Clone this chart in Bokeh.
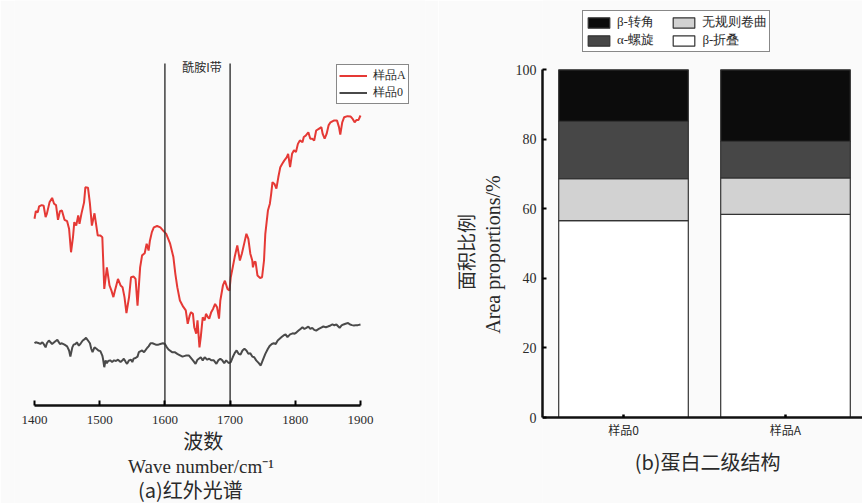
import math
from bokeh.plotting import figure
from bokeh.layouts import row
from bokeh.models import (Range1d, FixedTicker, Legend, LegendItem, Label, LinearAxis,
                          ColumnDataSource)
from bokeh.embed import file_html
from bokeh.resources import INLINE

# ---------------- data: (a) FTIR spectra ----------------
wn_a = [1400, 1402, 1405, 1407, 1411, 1414, 1417, 1419, 1423, 1427, 1430, 1433, 1436, 1439, 1442, 1446,
        1450, 1453, 1456, 1459, 1461, 1464, 1467, 1469, 1472, 1476, 1478, 1482, 1485, 1488, 1492, 1497,
        1501, 1504, 1507, 1511, 1515, 1518, 1521, 1524, 1528, 1532, 1535, 1538, 1541, 1545, 1548, 1552,
        1555, 1558, 1562, 1565, 1569, 1572, 1575, 1577, 1580, 1583, 1588, 1593, 1598, 1602, 1608, 1613,
        1616, 1619, 1623, 1628, 1632, 1635, 1638, 1640, 1643, 1645, 1648, 1650, 1653, 1655, 1658, 1661,
        1663, 1666, 1668, 1671, 1674, 1677, 1680, 1683, 1685, 1689, 1692, 1696, 1699, 1701, 1704, 1707,
        1711, 1715, 1718, 1722, 1725, 1728, 1731, 1734, 1735, 1737, 1739, 1742, 1746, 1749, 1752, 1754,
        1758, 1761, 1763, 1765, 1768, 1771, 1774, 1777, 1780, 1783, 1787, 1789, 1792, 1795, 1798, 1801,
        1804, 1807, 1811, 1813, 1816, 1820, 1823, 1826, 1829, 1832, 1836, 1840, 1842, 1845, 1848, 1851,
        1854, 1859, 1864, 1867, 1869, 1872, 1875, 1880, 1885, 1888, 1891, 1894, 1897, 1900]
trans_a = [54.6, 56.8, 56.5, 58.2, 58.6, 58.4, 55.1, 56.1, 59.4, 60.7, 59.0, 58.6, 54.3, 56.8, 57.0, 54.3,
           53.9, 51.7, 44.8, 49.2, 53.6, 52.6, 55.6, 53.1, 56.1, 59.4, 63.8, 63.7, 59.0, 52.6, 56.2, 49.7,
           49.7, 49.2, 34.1, 40.4, 35.1, 33.6, 31.7, 34.1, 37.0, 35.1, 34.6, 31.7, 27.0, 31.7, 37.5, 37.7,
           37.0, 29.2, 40.4, 43.9, 44.5, 47.3, 45.3, 48.2, 50.7, 52.1, 52.5, 52.1, 51.0, 50.2, 47.3, 43.4,
           38.5, 34.6, 30.7, 28.9, 27.8, 23.9, 26.3, 27.3, 26.8, 22.9, 21.0, 24.9, 17.0, 20.0, 25.8, 24.9,
           26.8, 25.8, 25.4, 27.3, 28.3, 29.7, 28.7, 25.4, 30.7, 35.1, 36.5, 34.1, 33.6, 37.5, 40.4, 43.4,
           46.8, 42.4, 44.4, 47.7, 50.2, 48.7, 44.4, 42.4, 40.4, 41.9, 42.1, 38.0, 37.3, 37.5, 42.4, 50.2,
           57.0, 59.0, 61.9, 65.3, 64.8, 63.4, 66.8, 69.7, 70.7, 71.6, 72.6, 73.6, 69.7, 73.6, 74.6, 74.1,
           76.5, 77.5, 77.0, 78.5, 78.9, 79.9, 78.0, 78.0, 77.5, 80.4, 80.9, 81.4, 79.4, 78.0, 79.4, 81.9,
           82.8, 83.3, 83.3, 81.4, 79.2, 82.8, 84.3, 84.6, 84.5, 83.8, 82.8, 83.5, 83.5, 84.8]

wn_0 = [1400, 1402, 1407, 1409, 1412, 1414, 1417, 1419, 1422, 1427, 1432, 1435, 1439, 1442, 1446, 1450,
        1453, 1455, 1458, 1460, 1463, 1465, 1468, 1471, 1474, 1477, 1479, 1482, 1485, 1487, 1489, 1492,
        1495, 1498, 1501, 1504, 1505, 1507, 1509, 1511, 1513, 1516, 1519, 1522, 1525, 1528, 1532, 1535,
        1537, 1540, 1542, 1545, 1548, 1550, 1552, 1555, 1558, 1560, 1563, 1565, 1568, 1570, 1573, 1575,
        1578, 1581, 1586, 1590, 1593, 1597, 1600, 1603, 1606, 1611, 1615, 1619, 1621, 1627, 1632, 1637,
        1643, 1647, 1650, 1655, 1658, 1661, 1665, 1668, 1671, 1675, 1679, 1682, 1685, 1688, 1691, 1694,
        1698, 1701, 1704, 1707, 1710, 1713, 1716, 1719, 1722, 1725, 1728, 1731, 1734, 1737, 1740, 1744,
        1747, 1750, 1754, 1758, 1761, 1764, 1767, 1770, 1773, 1776, 1779, 1782, 1785, 1788, 1792, 1796,
        1799, 1802, 1805, 1808, 1811, 1814, 1817, 1820, 1823, 1826, 1829, 1832, 1836, 1839, 1843, 1847,
        1850, 1854, 1857, 1860, 1863, 1866, 1868, 1871, 1874, 1877, 1881, 1884, 1887, 1890, 1893, 1896, 1900]
trans_0 = [18.2, 18.5, 18.2, 18.0, 18.5, 18.0, 17.0, 18.2, 19.0, 18.0, 18.8, 19.2, 18.0, 18.2, 17.8, 17.3,
           16.1, 14.3, 17.0, 17.8, 18.0, 18.5, 17.5, 18.2, 19.0, 19.4, 19.8, 19.0, 18.2, 16.6, 15.6, 17.0,
           16.6, 16.1, 15.9, 14.6, 13.7, 11.2, 13.2, 12.4, 13.0, 13.2, 12.7, 13.2, 13.0, 13.4, 12.7, 13.2,
           13.7, 12.7, 12.2, 13.2, 13.4, 12.7, 13.7, 13.9, 14.3, 15.6, 15.9, 16.1, 15.6, 16.1, 16.9, 17.3,
           18.2, 18.2, 17.8, 17.8, 18.0, 18.2, 18.0, 17.0, 16.3, 15.6, 15.6, 15.1, 14.9, 14.3, 14.6, 14.6,
           13.2, 12.2, 13.4, 14.1, 13.2, 14.1, 13.4, 13.7, 13.2, 13.2, 12.2, 13.2, 13.7, 13.2, 12.4, 13.2,
           12.4, 12.7, 14.1, 15.3, 16.1, 15.1, 14.9, 16.1, 16.6, 16.1, 15.1, 15.3, 14.3, 14.1, 13.2, 12.4,
           11.7, 13.2, 15.1, 16.6, 17.5, 18.0, 18.2, 18.0, 19.0, 19.5, 20.0, 20.5, 20.8, 20.0, 20.8, 21.1,
           21.0, 21.4, 21.9, 22.4, 22.9, 22.4, 22.7, 23.1, 22.4, 22.7, 22.1, 21.9, 22.4, 22.7, 23.1, 22.9,
           23.1, 23.4, 23.7, 23.4, 23.7, 23.1, 22.7, 23.4, 23.7, 23.9, 24.1, 23.7, 23.5, 23.4, 23.5, 23.5, 23.7]

band_edges = [1600, 1700]
band_label = "酰胺I带"
x_ticks_a = [1400, 1500, 1600, 1700, 1800, 1900]

# ---------------- data: (b) secondary structure ----------------
samples = ["样品0", "样品A"]
beta_sheet = [56.6, 58.4]
random_coil = [12.1, 10.5]
alpha_helix = [16.5, 10.5]
beta_turn = [14.8, 20.6]
y_ticks_b = [0, 20, 40, 60, 80, 100]

CJK = "Noto Sans CJK SC"
SERIF = "Liberation Serif"
BG = "#fafafa"
TXT = "#2a2a2a"
NB = "\u00a0"

# ================= (a) =================
p1 = figure(width=438, height=503, output_backend="svg", toolbar_location=None,
            x_range=Range1d(1369.3, 1999.7), y_range=Range1d(-28.65, 118.42),
            min_border_left=14, min_border_right=13, min_border_top=0, min_border_bottom=0)
p1.background_fill_color = BG
p1.border_fill_color = BG
p1.outline_line_color = None
p1.grid.visible = False
p1.yaxis.visible = False

ra = p1.line(wn_a, trans_a, line_color="#e53935", line_width=2)
r0 = p1.line(wn_0, trans_0, line_color="#4a4a4a", line_width=2)
p1.segment(x0=band_edges, y0=[0] * len(band_edges), x1=band_edges, y1=[100] * len(band_edges),
           line_color="#333333", line_width=1.4)

ax = p1.xaxis[0]
ax.fixed_location = 0
ax.ticker = FixedTicker(ticks=x_ticks_a)
ax.bounds = (x_ticks_a[0], x_ticks_a[-1])
ax.axis_line_width = 2.5
ax.axis_line_color = "#111111"
ax.major_tick_in = 5
ax.major_tick_out = 0
ax.major_tick_line_width = 2
ax.minor_tick_line_color = None
ax.major_label_text_font = SERIF
ax.major_label_text_font_size = "13px"
ax.major_label_text_color = TXT
ax.major_label_standoff = 10

leg1 = Legend(items=[LegendItem(label="样品A", renderers=[ra]), LegendItem(label="样品0", renderers=[r0])],
              location=(322, 399), label_text_font=SERIF, label_text_font_size="12px",
              label_text_color=TXT, glyph_width=28, glyph_height=11, label_height=11,
              label_standoff=6, spacing=0, padding=2, margin=0,
              border_line_color="#111111", border_line_width=1.2, background_fill_color="#ffffff",
              background_fill_alpha=1)
p1.add_layout(leg1, "center")

p1.add_layout(Label(x=1657, y=99.1, text=band_label, text_font=CJK, text_font_size="12px",
                    text_color=TXT, text_align="center", text_baseline="middle"))
p1.add_layout(Label(x=1659, y=-10.2, text="波数", text_font=CJK, text_font_size="20px",
                    text_color=TXT, text_align="center", text_baseline="middle"))
p1.add_layout(Label(x=1659, y=-17.8, text="Wave  number/cm⁻¹", text_font=SERIF, text_font_size="19px",
                    text_color=TXT, text_align="center", text_baseline="middle"))
p1.add_layout(Label(x=1639, y=-24.55, text="(a)红外光谱", text_font=CJK, text_font_size="20px",
                    text_color=TXT, text_align="center", text_baseline="middle"))

# ================= (b) =================
xpos = [i + 0.5 for i in range(len(samples))]
src = ColumnDataSource(dict(x=xpos, beta_sheet=beta_sheet, random_coil=random_coil,
                            alpha_helix=alpha_helix, beta_turn=beta_turn))

p2 = figure(width=424, height=503, output_backend="svg", toolbar_location=None,
            x_range=Range1d(0, 320 / 162), y_range=Range1d(-24.73, 119.93),
            min_border_left=104, min_border_right=0, min_border_top=0, min_border_bottom=0)
p2.background_fill_color = BG
p2.border_fill_color = BG
p2.outline_line_color = None
p2.grid.visible = False

stack_keys = ["beta_sheet", "random_coil", "alpha_helix", "beta_turn"]
stack_colors = ["#ffffff", "#d2d2d2", "#474747", "#0c0c0c"]
bars = p2.vbar_stack(stack_keys, x="x", width=0.8, source=src, color=stack_colors,
                     line_color="#333333", line_width=1.2)

yax = p2.yaxis[0]
yax.ticker = FixedTicker(ticks=y_ticks_b)
yax.bounds = (y_ticks_b[0], y_ticks_b[-1])
yax.axis_line_width = 2.5
yax.axis_line_color = "#111111"
yax.major_tick_in = 4
yax.major_tick_out = 0
yax.major_tick_line_width = 2
yax.minor_tick_line_color = None
yax.major_label_text_font = SERIF
yax.major_label_text_font_size = "14px"
yax.major_label_text_color = TXT
yax.major_label_standoff = 6
yax.axis_label = "Area  proportions/%"
yax.axis_label_text_font = SERIF
yax.axis_label_text_font_size = "20px"
yax.axis_label_text_font_style = "normal"
yax.axis_label_text_color = TXT
yax.axis_label_standoff = 9

yax2 = LinearAxis(ticker=FixedTicker(ticks=[]), bounds=(y_ticks_b[0], y_ticks_b[-1]),
                  axis_line_color=None, major_tick_line_color=None, minor_tick_line_color=None,
                  major_tick_in=0, major_tick_out=0, minor_tick_in=0, minor_tick_out=0,
                  major_label_standoff=0, axis_label="面积比例", axis_label_text_font=CJK,
                  axis_label_text_font_size="19px", axis_label_text_font_style="normal",
                  axis_label_text_color=TXT, axis_label_standoff=0)
p2.add_layout(yax2, "left")

xax = p2.xaxis[0]
xax.fixed_location = 0
xax.ticker = FixedTicker(ticks=xpos)
xax.major_label_overrides = {x: s for x, s in zip(xpos, samples)}
xax.axis_line_width = 2.5
xax.axis_line_color = "#111111"
xax.major_tick_in = 3
xax.major_tick_out = 0
xax.major_tick_line_width = 2.5
xax.minor_tick_line_color = None
xax.major_label_text_font = CJK
xax.major_label_text_font_size = "12px"
xax.major_label_text_color = TXT
xax.major_label_standoff = 3

leg2 = Legend(items=[LegendItem(label="β-转角", renderers=[bars[3]]),
                     LegendItem(label="α-螺旋" + NB * 5, renderers=[bars[2]]),
                     LegendItem(label="无规则卷曲", renderers=[bars[1]]),
                     LegendItem(label="β-折叠", renderers=[bars[0]])],
              location=(40, 451), nrows=2, label_text_font=SERIF, label_text_font_size="13px",
              label_text_color=TXT, glyph_width=27, glyph_height=13, label_height=13,
              label_standoff=5, spacing=-3, padding=2, margin=0,
              border_line_color="#111111", border_line_width=1.2, background_fill_color="#ffffff",
              background_fill_alpha=1)
p2.add_layout(leg2, "center")

p2.add_layout(Label(x=1.019, y=-12.65, text="(b)蛋白二级结构", text_font=CJK, text_font_size="20px",
                    text_color=TXT, text_align="center", text_baseline="middle"))

layout = row(p1, p2)
open("out.html", "w").write(file_html(layout, INLINE))
